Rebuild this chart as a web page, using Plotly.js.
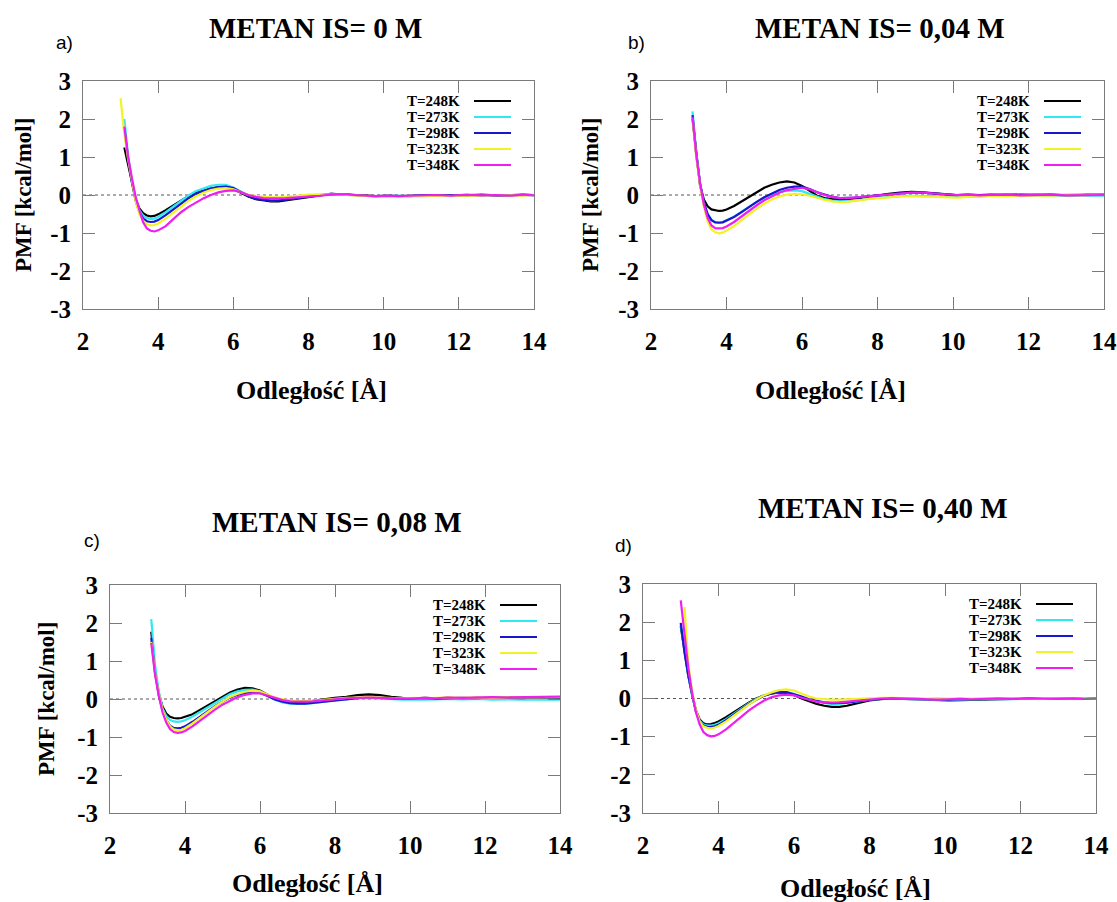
<!DOCTYPE html>
<html>
<head>
<meta charset="utf-8">
<script src="https://cdn.plot.ly/plotly-3.0.1.min.js"></script>
<style>
  html, body { margin: 0; padding: 0; background: #ffffff; }
  #chart { width: 1117px; height: 902px; }
</style>
</head>
<body>
<div id="chart"></div>
<script>
// Distance grid [Å] shared by all PMF curves
const distance = [3.0,3.1,3.2,3.3,3.4,3.5,3.6,3.7,3.8,3.9,4.0,
  4.2,4.4,4.6,4.8,5.0,5.2,5.4,5.6,5.8,6.0,6.2,6.4,6.6,6.8,7.0,7.2,7.4,7.6,7.8,8.0,
  8.3,8.6,8.9,9.2,9.5,9.8,10.1,10.4,10.7,11.0,
  11.4,11.8,12.2,12.6,13.0,13.4,13.7,14.0];

const temperatures = ['T=248K', 'T=273K', 'T=298K', 'T=323K', 'T=348K'];
const seriesColors = ['#000000', '#2ee8f2', '#1717cc', '#f2f226', '#ee1fee'];

const xTickVals = [2, 4, 6, 8, 10, 12, 14];
const xTickText = ['2', '4', '6', '8', '10', '12', '14'];
const yTickVals = [-3, -2, -1, 0, 1, 2, 3];
const yTickText = ['-3', '-2', '-1', '0', '1', '2', '3'];

const panelTitles = ['METAN IS= 0 M', 'METAN IS= 0,04 M', 'METAN IS= 0,08 M', 'METAN IS= 0,40 M'];
const panelLetters = ['a)', 'b)', 'c)', 'd)'];
const xAxisTitle = 'Odległość [Å]';
const yAxisTitle = 'PMF [kcal/mol]';

// PMF [kcal/mol], IS = 0 M
const pmf0_248 = [null,1.25,0.8,0.3,-0.1,-0.35,-0.48,-0.54,-0.56,-0.55,-0.51,
  -0.4,-0.27,-0.14,-0.03,0.06,0.12,0.17,0.2,0.2,0.16,0.06,-0.04,-0.11,-0.15,-0.17,-0.17,-0.14,-0.1,-0.07,-0.04,
  0.0,0.03,0.02,0.0,-0.02,-0.03,-0.02,-0.03,-0.02,-0.01,
  -0.02,0.0,-0.01,0.0,-0.01,0.0,-0.01,0.0];
const pmf0_273 = [null,2.0,1.05,0.4,-0.1,-0.4,-0.55,-0.61,-0.63,-0.62,-0.58,
  -0.45,-0.3,-0.15,-0.02,0.1,0.18,0.24,0.27,0.27,0.2,0.08,-0.02,-0.08,-0.12,-0.14,-0.13,-0.11,-0.08,-0.05,-0.03,
  -0.01,0.02,0.01,-0.01,-0.03,-0.04,-0.03,-0.02,-0.03,-0.01,
  -0.02,-0.01,0.0,-0.02,0.0,-0.01,0.0,-0.01];
const pmf0_298 = [null,1.75,0.95,0.35,-0.15,-0.45,-0.62,-0.69,-0.71,-0.7,-0.66,
  -0.53,-0.38,-0.22,-0.09,0.03,0.11,0.17,0.21,0.22,0.18,0.07,-0.03,-0.1,-0.13,-0.15,-0.15,-0.12,-0.09,-0.06,-0.03,
  0.0,0.03,0.02,0.0,-0.02,-0.03,-0.02,-0.02,-0.03,-0.01,
  -0.01,0.0,-0.01,0.01,-0.01,0.0,0.01,0.0];
const pmf0_323 = [2.55,1.6,0.95,0.35,-0.15,-0.5,-0.68,-0.77,-0.8,-0.79,-0.75,
  -0.62,-0.46,-0.3,-0.16,-0.04,0.06,0.13,0.17,0.18,0.15,0.07,0.0,-0.03,-0.05,-0.06,-0.06,-0.05,-0.03,-0.01,0.01,
  0.02,0.02,0.01,-0.01,-0.03,-0.04,-0.05,-0.04,-0.03,-0.04,
  -0.02,-0.03,-0.01,-0.02,0.0,-0.01,-0.02,0.0];
const pmf0_348 = [null,1.8,1.0,0.45,-0.05,-0.4,-0.72,-0.88,-0.94,-0.96,-0.93,
  -0.82,-0.64,-0.46,-0.32,-0.2,-0.09,0.0,0.07,0.11,0.12,0.08,0.0,-0.05,-0.08,-0.09,-0.09,-0.08,-0.07,-0.06,-0.04,
  -0.02,0.01,0.02,0.0,-0.02,-0.03,-0.02,-0.03,-0.02,-0.01,
  0.0,-0.02,0.01,-0.01,0.0,-0.02,0.01,-0.01];

// PMF [kcal/mol], IS = 0,04 M
const pmf004_248 = [null,2.0,1.05,0.25,-0.12,-0.3,-0.38,-0.41,-0.42,-0.41,-0.38,
  -0.29,-0.17,-0.03,0.09,0.19,0.27,0.33,0.36,0.33,0.24,0.1,-0.02,-0.08,-0.11,-0.12,-0.11,-0.09,-0.07,-0.04,-0.01,
  0.03,0.06,0.08,0.07,0.05,0.02,0.0,0.01,0.0,0.01,
  0.0,0.01,0.0,0.01,-0.01,0.0,0.01,0.0];
const pmf004_273 = [null,2.2,1.1,0.3,-0.2,-0.5,-0.65,-0.71,-0.72,-0.71,-0.67,
  -0.57,-0.44,-0.3,-0.18,-0.07,0.02,0.08,0.11,0.12,0.1,0.03,-0.05,-0.11,-0.15,-0.17,-0.17,-0.15,-0.12,-0.09,-0.07,
  -0.05,-0.03,-0.02,-0.03,-0.03,-0.05,-0.05,-0.04,-0.04,-0.02,
  -0.03,-0.01,-0.02,-0.01,-0.02,-0.01,-0.01,-0.02];
const pmf004_298 = [null,2.1,1.05,0.3,-0.2,-0.5,-0.66,-0.72,-0.73,-0.72,-0.68,
  -0.58,-0.45,-0.31,-0.18,-0.06,0.04,0.13,0.19,0.22,0.22,0.16,0.07,0.0,-0.05,-0.08,-0.08,-0.07,-0.05,-0.03,-0.01,
  0.02,0.05,0.07,0.06,0.04,0.01,-0.01,0.0,-0.01,0.0,
  0.01,0.0,0.01,0.0,0.0,0.01,0.0,0.01];
const pmf004_323 = [null,2.0,1.0,0.25,-0.3,-0.7,-0.9,-0.98,-1.01,-0.99,-0.94,
  -0.82,-0.66,-0.5,-0.36,-0.23,-0.12,-0.04,0.01,0.03,0.02,-0.02,-0.08,-0.13,-0.17,-0.19,-0.18,-0.16,-0.13,-0.1,-0.08,
  -0.06,-0.04,-0.03,-0.04,-0.05,-0.06,-0.07,-0.05,-0.04,-0.03,
  -0.02,-0.03,-0.01,-0.02,0.0,-0.01,0.01,0.0];
const pmf004_348 = [null,2.05,1.05,0.3,-0.25,-0.6,-0.8,-0.87,-0.88,-0.87,-0.83,
  -0.71,-0.56,-0.41,-0.27,-0.14,-0.03,0.06,0.13,0.17,0.19,0.15,0.07,0.0,-0.05,-0.08,-0.08,-0.07,-0.05,-0.03,-0.01,
  0.02,0.04,0.06,0.06,0.04,0.02,0.0,0.01,-0.01,0.0,
  0.01,-0.01,0.0,0.01,-0.01,0.0,0.01,0.0];

// PMF [kcal/mol], IS = 0,08 M
const pmf008_248 = [null,1.77,0.75,0.15,-0.2,-0.38,-0.47,-0.5,-0.51,-0.5,-0.47,
  -0.4,-0.29,-0.17,-0.05,0.07,0.17,0.25,0.29,0.28,0.22,0.11,0.0,-0.07,-0.1,-0.1,-0.08,-0.05,-0.02,0.01,0.03,
  0.06,0.1,0.12,0.1,0.06,0.03,0.02,0.03,0.02,0.03,
  0.02,0.03,0.02,0.04,0.03,0.02,0.04,0.03];
const pmf008_273 = [null,2.1,0.9,0.2,-0.25,-0.45,-0.55,-0.59,-0.6,-0.59,-0.56,
  -0.46,-0.34,-0.21,-0.09,0.03,0.13,0.2,0.24,0.25,0.2,0.09,-0.02,-0.09,-0.12,-0.13,-0.13,-0.11,-0.08,-0.05,-0.03,
  -0.01,0.02,0.03,0.01,-0.01,-0.02,-0.01,-0.02,-0.01,0.0,
  -0.01,0.0,-0.02,-0.01,-0.02,-0.01,-0.02,-0.02];
const pmf008_298 = [null,1.6,0.7,0.1,-0.3,-0.55,-0.7,-0.76,-0.77,-0.76,-0.72,
  -0.6,-0.46,-0.32,-0.19,-0.07,0.04,0.11,0.16,0.18,0.16,0.08,-0.01,-0.07,-0.11,-0.12,-0.12,-0.1,-0.08,-0.05,-0.03,
  0.0,0.02,0.04,0.03,0.01,0.0,0.01,0.02,0.01,0.02,
  0.03,0.02,0.04,0.03,0.02,0.04,0.03,0.04];
const pmf008_323 = [null,1.5,0.7,0.15,-0.28,-0.55,-0.72,-0.8,-0.82,-0.81,-0.77,
  -0.64,-0.49,-0.34,-0.2,-0.07,0.05,0.13,0.19,0.22,0.2,0.12,0.04,-0.01,-0.04,-0.05,-0.05,-0.04,-0.03,-0.01,0.01,
  0.03,0.04,0.05,0.04,0.03,0.02,0.03,0.02,0.03,0.04,
  0.03,0.04,0.03,0.04,0.05,0.04,0.05,0.05];
const pmf008_348 = [null,1.48,0.65,0.1,-0.35,-0.62,-0.79,-0.87,-0.89,-0.88,-0.84,
  -0.72,-0.57,-0.42,-0.28,-0.15,-0.04,0.05,0.11,0.15,0.15,0.09,0.02,-0.03,-0.06,-0.07,-0.07,-0.06,-0.04,-0.02,0.0,
  0.02,0.03,0.04,0.03,0.02,0.01,0.02,0.03,0.02,0.04,
  0.03,0.04,0.05,0.04,0.05,0.06,0.05,0.06];

// PMF [kcal/mol], IS = 0,40 M
const pmf040_248 = [1.9,1.2,0.6,0.1,-0.3,-0.55,-0.65,-0.68,-0.67,-0.64,-0.6,
  -0.49,-0.36,-0.23,-0.11,0.0,0.08,0.13,0.16,0.15,0.09,0.0,-0.08,-0.14,-0.19,-0.22,-0.22,-0.19,-0.14,-0.09,-0.05,
  -0.02,0.0,-0.01,-0.02,-0.03,-0.04,-0.05,-0.04,-0.03,-0.02,
  -0.02,-0.01,-0.01,0.0,-0.01,0.0,-0.01,0.0];
const pmf040_273 = [1.95,1.2,0.6,0.1,-0.32,-0.58,-0.68,-0.71,-0.71,-0.69,-0.65,
  -0.54,-0.4,-0.26,-0.13,-0.01,0.08,0.14,0.17,0.17,0.12,0.04,-0.03,-0.08,-0.12,-0.14,-0.14,-0.12,-0.09,-0.06,-0.03,
  -0.01,0.0,-0.01,-0.02,-0.03,-0.04,-0.04,-0.03,-0.02,-0.02,
  -0.01,-0.02,0.0,-0.01,0.0,-0.01,0.0,0.0];
const pmf040_298 = [1.98,1.2,0.6,0.1,-0.33,-0.6,-0.71,-0.74,-0.75,-0.73,-0.69,
  -0.57,-0.43,-0.28,-0.15,-0.03,0.07,0.13,0.17,0.17,0.12,0.05,-0.02,-0.07,-0.1,-0.12,-0.12,-0.11,-0.08,-0.05,-0.03,
  -0.01,0.01,0.0,-0.01,-0.02,-0.03,-0.03,-0.02,-0.01,-0.01,
  0.0,-0.01,0.01,0.0,0.01,0.0,0.01,0.0];
const pmf040_323 = [null,2.4,0.9,0.2,-0.3,-0.6,-0.73,-0.77,-0.78,-0.76,-0.72,
  -0.6,-0.45,-0.3,-0.16,-0.03,0.08,0.16,0.22,0.24,0.21,0.13,0.05,0.0,-0.02,-0.03,-0.03,-0.02,-0.01,0.0,0.01,
  0.02,0.02,0.01,0.01,0.0,0.01,0.0,0.01,0.0,0.01,
  0.0,0.01,0.0,0.01,0.0,0.0,0.01,0.0];
const pmf040_348 = [2.57,1.6,0.8,0.15,-0.35,-0.68,-0.88,-0.96,-0.99,-0.98,-0.94,
  -0.81,-0.64,-0.47,-0.32,-0.18,-0.06,0.03,0.08,0.1,0.08,0.02,-0.04,-0.08,-0.1,-0.11,-0.1,-0.08,-0.06,-0.04,-0.02,
  0.0,0.01,0.0,-0.01,-0.02,-0.03,-0.02,-0.01,-0.02,-0.01,
  0.0,-0.01,0.01,0.0,-0.01,0.0,-0.01,0.0];

const panelSeries = [
  [pmf0_248, pmf0_273, pmf0_298, pmf0_323, pmf0_348],
  [pmf004_248, pmf004_273, pmf004_298, pmf004_323, pmf004_348],
  [pmf008_248, pmf008_273, pmf008_298, pmf008_323, pmf008_348],
  [pmf040_248, pmf040_273, pmf040_298, pmf040_323, pmf040_348]
];

// ---- page geometry (pixels) ----
const W = 1117, H = 902;
const px = v => v / W;
const py = v => 1 - v / H;

// plot frames: left, right, top, bottom
const frames = [
  {l: 83,  r: 534,  t: 81,  b: 309},
  {l: 651, r: 1104, t: 81,  b: 309},
  {l: 110, r: 560,  t: 585, b: 813},
  {l: 643, r: 1096, t: 584, b: 813}
];
const titlePos  = [[315, 28], [880, 28], [337, 522], [883, 508]];
const letterPos = [[64, 43], [636, 43], [92, 540], [623, 545]];
const xTitlePos = [[311, 390], [830, 390], [307, 883], [855, 888]];
const yTitlePos = [[23, 195], [590, 195], [46, 699], null];

const SERIF = '"Liberation Serif", "Times New Roman", Times, serif';
const SANS = '"Liberation Sans", Arial, sans-serif';
const frameColor = '#7a7a7a';
const bold = s => '<b>' + s + '</b>';

const traces = [];
const annotations = [];
const shapes = [];
const layout = {
  width: W, height: H,
  margin: {l: 0, r: 0, t: 0, b: 0},
  paper_bgcolor: '#ffffff', plot_bgcolor: '#ffffff',
  showlegend: false,
  font: {family: SERIF, color: '#000'}
};

frames.forEach((f, p) => {
  const sfx = p === 0 ? '' : String(p + 1);
  const xa = 'x' + sfx, ya = 'y' + sfx;

  layout['xaxis' + sfx] = {
    domain: [px(f.l), px(f.r)], anchor: ya, range: [2, 14],
    tickmode: 'array', tickvals: xTickVals, ticktext: xTickText.map(bold),
    ticks: 'inside', ticklen: 12, tickwidth: 1, tickcolor: frameColor,
    showline: true, linecolor: frameColor, linewidth: 1, mirror: 'ticks',
    showgrid: false, zeroline: false, ticklabelstandoff: 10,
    tickfont: {family: SERIF, size: 25, color: '#000', weight: 'bold'}
  };
  layout['yaxis' + sfx] = {
    domain: [py(f.b), py(f.t)], anchor: xa, range: [-3, 3],
    tickmode: 'array', tickvals: yTickVals, ticktext: yTickText.map(bold),
    ticks: 'inside', ticklen: 12, tickwidth: 1, tickcolor: frameColor,
    showline: true, linecolor: frameColor, linewidth: 1, mirror: 'ticks',
    showgrid: false, zeroline: false, ticklabelstandoff: 6,
    tickfont: {family: SERIF, size: 25, color: '#000', weight: 'bold'}
  };

  // dotted zero reference
  shapes.push({
    type: 'line', xref: xa + ' domain', yref: ya, x0: 0, x1: 1, y0: 0, y1: 0,
    line: {color: '#555555', width: 1, dash: 'dot'}, layer: 'below'
  });

  panelSeries[p].forEach((vals, i) => {
    traces.push({
      type: 'scatter', mode: 'lines', x: distance, y: vals,
      xaxis: xa, yaxis: ya, name: temperatures[i],
      line: {color: seriesColors[i], width: 2.2}, connectgaps: false
    });
    // key: label on the left, line sample on the right
    const rowY = f.t + 20 + 16 * i;
    annotations.push({
      xref: 'paper', yref: 'paper', x: px(f.r - 72), y: py(rowY),
      xanchor: 'right', yanchor: 'middle', showarrow: false,
      text: bold(temperatures[i]),
      font: {family: SERIF, size: 15, color: '#000'}
    });
    shapes.push({
      type: 'line', xref: 'paper', yref: 'paper',
      x0: px(f.r - 60), x1: px(f.r - 23), y0: py(rowY), y1: py(rowY),
      line: {color: seriesColors[i], width: 2.2}
    });
  });

  annotations.push({
    xref: 'paper', yref: 'paper', x: px(titlePos[p][0]), y: py(titlePos[p][1]),
    xanchor: 'center', yanchor: 'middle', showarrow: false,
    text: bold(panelTitles[p]),
    font: {family: SERIF, size: 29, color: '#000'}
  });
  annotations.push({
    xref: 'paper', yref: 'paper', x: px(letterPos[p][0]), y: py(letterPos[p][1]),
    xanchor: 'center', yanchor: 'middle', showarrow: false,
    text: panelLetters[p],
    font: {family: SANS, size: 19, color: '#000'}
  });
  annotations.push({
    xref: 'paper', yref: 'paper', x: px(xTitlePos[p][0]), y: py(xTitlePos[p][1]),
    xanchor: 'center', yanchor: 'middle', showarrow: false,
    text: bold(xAxisTitle),
    font: {family: SERIF, size: 26, color: '#000'}
  });
  if (yTitlePos[p]) {
    annotations.push({
      xref: 'paper', yref: 'paper', x: px(yTitlePos[p][0]), y: py(yTitlePos[p][1]),
      xanchor: 'center', yanchor: 'middle', showarrow: false, textangle: -90,
      text: bold(yAxisTitle),
      font: {family: SERIF, size: 23, color: '#000'}
    });
  }
});

layout.annotations = annotations;
layout.shapes = shapes;

Plotly.newPlot('chart', traces, layout, {staticPlot: true, displayModeBar: false});
</script>
</body>
</html>
